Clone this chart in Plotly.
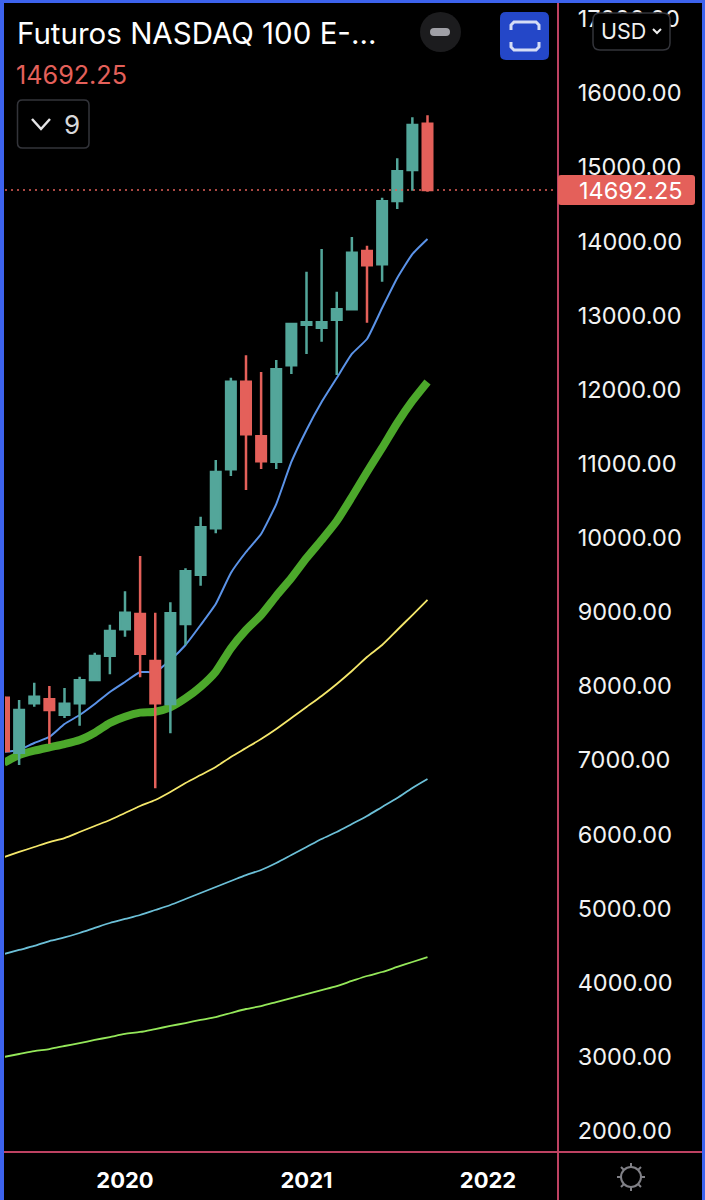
import plotly.graph_objects as go

months = ["2019-05","2019-06","2019-07","2019-08","2019-09","2019-10","2019-11","2019-12",
          "2020-01","2020-02","2020-03","2020-04","2020-05","2020-06","2020-07","2020-08","2020-09","2020-10","2020-11","2020-12",
          "2021-01","2021-02","2021-03","2021-04","2021-05","2021-06","2021-07","2021-08","2021-09"]
open_ = [7844,7102,7768,7822,7615,7768,8083,8410,8766,8973,8339,7759,8838,9503,10129,10924,12106,11370,11027,12327,12875,12834,12942,13083,13869,13689,14543,14961,15586]
high = [7867,7813,8046,8002,7975,8127,8451,8828,9279,9755,8990,9131,9589,10285,11050,12160,12462,12237,12399,12902,13590,13896,13320,14058,13940,14588,15119,15672,15699]
low = [7120,6936,7722,7219,7570,7466,8073,8159,8667,8119,6622,7364,8555,9355,10061,10834,10645,10929,10929,12210,12480,12646,12196,13083,12902,13455,14435,14682,14669]
close = [7125,7678,7857,7678,7763,8079,8406,8743,8990,8437,7768,8982,9549,10142,10888,12106,11397,11032,12273,12884,12907,12907,13083,13846,13676,14539,14944,15568,14692.25]

ma_blue = [7112,7138,7233,7314,7489,7610,7759,7921,8056,8190,8190,8352,8555,8824,9108,9526,9809,10052,10456,11023,11455,11832,12156,12480,12682,13100,13505,13828,14031]
ma_green = [6967,7071,7129,7175,7219,7273,7372,7503,7588,7642,7655,7714,7836,7992,8195,8510,8757,8959,9216,9458,9728,9971,10227,10551,10888,11212,11549,11846,12102]
ma_yellow = [5695,5763,5830,5897,5951,6032,6113,6194,6289,6383,6464,6572,6693,6801,6909,7044,7165,7287,7422,7570,7718,7867,8029,8204,8393,8555,8757,8959,9162]
ma_cyan = [4387,4441,4495,4562,4610,4670,4738,4805,4859,4913,4980,5048,5129,5210,5291,5371,5452,5520,5614,5722,5830,5938,6032,6140,6248,6370,6491,6626,6747]
ma_lime = [2998,3038,3078,3105,3146,3186,3227,3267,3308,3335,3375,3416,3456,3497,3537,3591,3645,3685,3739,3793,3847,3901,3955,4023,4090,4144,4212,4279,4346]

year_ticks = [8, 20, 32]
year_labels = ["2020", "2021", "2022"]
price_ticks = [2000,3000,4000,5000,6000,7000,8000,9000,10000,11000,12000,13000,14000,15000,16000,17000]
last_price = 14692.25

UP, DOWN = "#53A69A", "#E4605A"
PINK = "#BE4262"
BLUE_EDGE = "#3D63EE"
FONT = "Inter"
idx = list(range(len(months)))

L, R, T, B = 5, 558, 3, 1152
def fx(p): return (p - L) / (R - L)
def fy(p): return (B - p) / (B - T)

fig = go.Figure()
for vals, col, w, name, sm in [(ma_lime, "#95E85A", 1.8, "MA 200", 0.8), (ma_cyan, "#6CC0D8", 1.8, "MA 100", 0.8),
                               (ma_yellow, "#F5E86B", 1.8, "MA 50", 0.8), (ma_green, "#4CA82B", 8, "MA 20", 0.6),
                               (ma_blue, "#5B93E8", 2, "MA 10", 0.4)]:
    fig.add_trace(go.Scatter(x=idx, y=vals, mode="lines", name=name, hovertext=months,
                             line=dict(color=col, width=w, shape="spline", smoothing=sm)))

fig.add_trace(go.Candlestick(x=idx, open=open_, high=high, low=low, close=close, yaxis="y2", name="NQ",
                             increasing=dict(line=dict(color=UP, width=2.5), fillcolor=UP),
                             decreasing=dict(line=dict(color=DOWN, width=2.5), fillcolor=DOWN),
                             whiskerwidth=0))

def rect(x0, y0, x1, y1, fill, line=None, lw=0):
    return dict(type="rect", xref="paper", yref="paper", x0=fx(x0), x1=fx(x1), y0=fy(y0), y1=fy(y1),
                fillcolor=fill, line=dict(color=line or fill, width=lw), layer="above")
def seg(pts, col, w):
    d = "M " + " L ".join(f"{fx(a):.5f},{fy(b):.5f}" for a, b in pts)
    return dict(type="path", xref="paper", yref="paper", path=d, line=dict(color=col, width=w), layer="above")
def rrect(x0, y0, x1, y1, r, fill, line=None, lw=0):
    k = [(x0+r,y0),(x1-r,y0),(x1,y0+r),(x1,y1-r),(x1-r,y1),(x0+r,y1),(x0,y1-r),(x0,y0+r)]
    c = [(x1,y0),(x1,y1),(x0,y1),(x0,y0)]
    P = lambda t: f"{fx(t[0]):.5f},{fy(t[1]):.5f}"
    d = f"M {P(k[0])} L {P(k[1])} Q {P(c[0])} {P(k[2])} L {P(k[3])} Q {P(c[1])} {P(k[4])} L {P(k[5])} Q {P(c[2])} {P(k[6])} L {P(k[7])} Q {P(c[3])} {P(k[0])} Z"
    return dict(type="path", xref="paper", yref="paper", path=d, fillcolor=fill,
                line=dict(color=line or fill, width=lw), layer="above")

shapes = [
    dict(type="line", xref="paper", yref="y", x0=0, x1=1, y0=last_price, y1=last_price,
         line=dict(color=DOWN, width=1.5, dash="2px,4px"), layer="above"),
    seg([(558, 0), (558, 1200)], PINK, 2),
    seg([(3, 1152), (705, 1152)], PINK, 2),
    rrect(558, 175, 695, 205, 3, DOWN),
    rect(0, 0, 705, 3, BLUE_EDGE),
    rect(0, 0, 4, 1200, BLUE_EDGE),
    rect(702, 0, 705, 1200, BLUE_EDGE),
    rrect(593, 13, 670, 50, 7, "#000000", "#33343A", 1.5),
    rrect(17.5, 100, 89, 148, 5, "#000000", "#33343A", 1.5),
    seg([(32, 119), (41, 129), (50, 119)], "#E4E4E6", 2.5),
    seg([(653, 29), (657, 33), (661, 29)], "#F0F0F0", 2),
    dict(type="circle", xref="paper", yref="paper", x0=fx(420), x1=fx(461), y0=fy(12), y1=fy(52),
         fillcolor="#1C1C1E", line=dict(width=0), layer="above"),
    rrect(430, 28, 450, 36, 4, "#A0A0A6"),
    rrect(500, 12, 549, 60, 6, "#2447C8"),
    seg([(511, 30), (511, 25), (514, 22), (536, 22), (539, 25), (539, 30)], "#D5DDF5", 3),
    seg([(511, 42), (511, 47), (514, 50), (536, 50), (539, 47), (539, 42)], "#D5DDF5", 3),
    dict(type="circle", xref="paper", yref="paper", x0=fx(621), x1=fx(641), y0=fy(1167), y1=fy(1187),
         line=dict(color="#808086", width=2), layer="above"),
]
for a, b, c, d in [(631,1163,631,1167),(631,1187,631,1191),(617,1177,621,1177),(641,1177,645,1177),
                   (621,1167,624,1170),(641,1167,638,1170),(621,1187,624,1184),(641,1187,638,1184)]:
    shapes.append(seg([(a, b), (c, d)], "#808086", 2))

def note(text, x, y, size, color="#FFFFFF", anchor="left"):
    return dict(text=text, xref="paper", yref="paper", x=fx(x), y=fy(y), xanchor=anchor, yanchor="middle",
                showarrow=False, font=dict(family=FONT, size=size, color=color))

annotations = [
    note("Futuros NASDAQ 100 E-...", 15, 33, 29.5),
    note("14692.25", 14, 75, 25.2, DOWN),
    note("9", 62, 124, 26, "#D8D8DA"),
    note("USD", 599, 31, 21.5, "#F0F0F0"),
    note(f"{last_price:.2f}", 577, 191, 23.5),
]

yrange = [16000 - (B - 93) * 13.488, 16000 + (93 - T) * 13.488]
xrange_ = [(L - 4) / 15.125, (R - 4) / 15.125]

fig.update_layout(
    width=705, height=1200, autosize=False,
    margin=dict(l=L, r=705 - R, t=T, b=1200 - B, pad=0),
    paper_bgcolor="#000000", plot_bgcolor="#000000",
    showlegend=False, boxgap=0.37, boxgroupgap=0,
    font=dict(family=FONT, color="#FFFFFF"),
    xaxis=dict(range=xrange_, rangeslider=dict(visible=False), showgrid=False, zeroline=False, showline=False,
               tickmode="array", tickvals=year_ticks, ticktext=[f"<b>{s}</b>" for s in year_labels],
               ticks="outside", ticklen=9, tickcolor="rgba(0,0,0,0)", tickfont=dict(size=22, family=FONT, color="#FFFFFF")),
    yaxis=dict(range=yrange, side="right", showgrid=False, zeroline=False, showline=False,
               tickmode="array", tickvals=price_ticks, tickformat=".2f",
               ticks="outside", ticklen=14, tickcolor="rgba(0,0,0,0)",
               tickfont=dict(size=23.5, family=FONT, color="#F2F2F2")),
    yaxis2=dict(range=yrange, overlaying="y", side="right", visible=False, showgrid=False),
    shapes=shapes, annotations=annotations,
)

fig.write_html("out.html", config=dict(displayModeBar=False),
               post_script="document.body.style.margin='0';document.body.style.background='#000';document.body.style.overflow='hidden';")
